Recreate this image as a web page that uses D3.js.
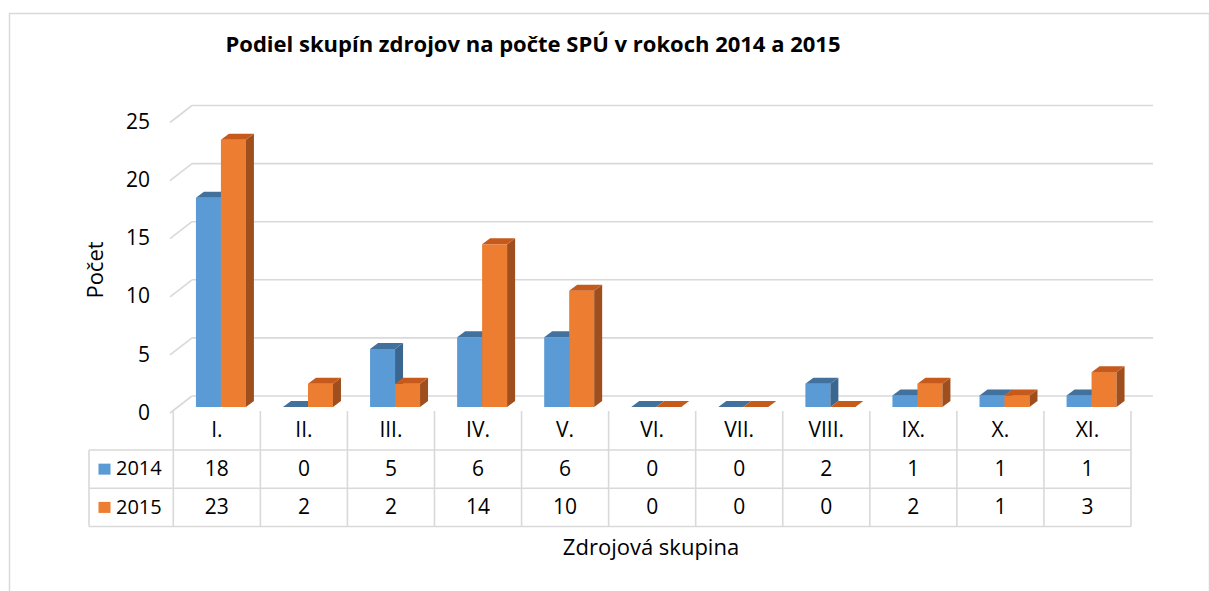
<!DOCTYPE html>
<meta charset="utf-8">
<script src="https://d3js.org/d3.v7.min.js"></script>
<html>
  <head>
    <style>
    body { margin: 0; background-color: white; }
    text { font-family: "Open Sans", sans-serif; fill: #000; }
    </style>
  </head>
  <body>
    <div id="my_dataviz"></div>
  </body>
</html>
<script>

// data
var categories = ["I.", "II.", "III.", "IV.", "V.", "VI.", "VII.", "VIII.", "IX.", "X.", "XI."];
var series = ["2014", "2015"];
var values2014 = [18, 0, 5, 6, 6, 0, 0, 2, 1, 1, 1];
var values2015 = [23, 2, 2, 14, 10, 0, 0, 0, 2, 1, 3];
var yTicks = [0, 5, 10, 15, 20, 25];

var colors = {
  "2014": {front: "#5b9bd5", top: "#41719c", side: "#3a6690"},
  "2015": {front: "#ed7d31", top: "#c55a1c", side: "#9e4f1d"}
};

var W = 1209, H = 591;
var svg = d3.select("#my_dataviz")
  .append("svg")
    .attr("width", W)
    .attr("height", H);

// chart border
svg.append("rect")
  .attr("x", 9.5).attr("y", 13.5)
  .attr("width", 1200).attr("height", 600)
  .attr("fill", "white")
  .attr("stroke", "#d9d9d9")
  .attr("stroke-width", 1.5);

// title
svg.append("text")
  .attr("x", 533).attr("y", 52)
  .attr("text-anchor", "middle")
  .style("font-weight", "bold")
  .style("font-size", "22px")
  .text("Podiel skupín zdrojov na počte SPÚ v rokoch 2014 a 2015");

// ---------------------------//
//       AXIS  AND SCALE      //
// ---------------------------//
var x = d3.scaleBand()
  .domain(categories)
  .range([173.3, 1131])
  .padding(0);

var y = d3.scaleLinear()
  .domain([0, 25])
  .range([407, 116.5]);

// 3d offsets
var wallDx = 22, wallDy = 17;     // floor front edge -> back wall
var barDx = 8, barDy = 6;          // bar depth

// gridlines on back wall + diagonals on the side
var grid = svg.append("g");
yTicks.forEach(function(v) {
  var yb = y(v) - 11;
  grid.append("line")
    .attr("x1", 170 + wallDx).attr("x2", 1153)
    .attr("y1", yb).attr("y2", yb)
    .attr("stroke", "#d9d9d9").attr("stroke-width", 1.6);
  grid.append("line")
    .attr("x1", 170).attr("y1", yb + wallDy)
    .attr("x2", 170 + wallDx).attr("y2", yb)
    .attr("stroke", "#d9d9d9").attr("stroke-width", 1.6);
  grid.append("text")
    .attr("x", 150).attr("y", yb + wallDy + 1)
    .attr("text-anchor", "end")
    .attr("dominant-baseline", "middle")
    .style("font-size", "21px")
    .text(v);
});

// y axis label
svg.append("text")
  .attr("transform", "translate(103,270) rotate(-90)")
  .attr("text-anchor", "middle")
  .style("font-size", "22px")
  .text("Počet");

// ---------------------------//
//       3D BARS              //
// ---------------------------//
var bw = x.bandwidth();
var barW = bw * 0.287;
var barOff = bw * 0.26;

var bars = svg.append("g");
categories.forEach(function(c, i) {
  [values2014[i], values2015[i]].forEach(function(v, k) {
    var col = colors[series[k]];
    var x0 = x(c) + barOff + k * barW, x1 = x0 + barW;
    var yt = y(v), yb = y(0);
    if (v > 0) {
      bars.append("rect")
        .attr("x", x0).attr("y", yt)
        .attr("width", barW).attr("height", yb - yt)
        .attr("fill", col.front);
      bars.append("path")
        .attr("d", "M" + x1 + "," + yt + "L" + (x1 + barDx) + "," + (yt - barDy) +
          "L" + (x1 + barDx) + "," + (yb - barDy) + "L" + x1 + "," + yb + "Z")
        .attr("fill", col.side);
    }
    bars.append("path")
      .attr("d", "M" + x0 + "," + yt + "L" + (x0 + barDx) + "," + (yt - barDy) +
        "L" + (x1 + barDx) + "," + (yt - barDy) + "L" + x1 + "," + yt + "Z")
      .attr("fill", col.top);
  });
});

// ---------------------------//
//       DATA TABLE           //
// ---------------------------//
var tTop = 411, r1 = 450, r2 = 488.3, r3 = 526.5, legL = 89;
var tbl = svg.append("g").attr("stroke", "#d9d9d9").attr("stroke-width", 1.6);
categories.concat(["end"]).forEach(function(c, i) {
  var xx = c === "end" ? x.range()[1] : x(c);
  tbl.append("line").attr("x1", xx).attr("x2", xx).attr("y1", tTop).attr("y2", r3);
});
tbl.append("line").attr("x1", legL).attr("x2", legL).attr("y1", r1).attr("y2", r3);
[r1, r2, r3].forEach(function(yy) {
  tbl.append("line").attr("x1", legL).attr("x2", x.range()[1]).attr("y1", yy).attr("y2", yy);
});

svg.append("g").selectAll("text")
  .data(categories).enter().append("text")
    .attr("x", function(d) { return x(d) + bw / 2; })
    .attr("y", (tTop + r1) / 2 + 1)
    .attr("text-anchor", "middle")
    .attr("dominant-baseline", "middle")
    .style("font-size", "21px")
    .text(function(d) { return d; });

[values2014, values2015].forEach(function(vals, k) {
  var yc = k === 0 ? (r1 + r2) / 2 : (r2 + r3) / 2;
  svg.append("g").selectAll("text")
    .data(vals).enter().append("text")
      .attr("x", function(d, i) { return x(categories[i]) + bw / 2; })
      .attr("y", yc + 1)
      .attr("text-anchor", "middle")
      .attr("dominant-baseline", "middle")
      .style("font-size", "21px")
      .text(function(d) { return d; });
  svg.append("rect")
    .attr("x", 98.5).attr("y", yc - 5.5)
    .attr("width", 12).attr("height", 11)
    .attr("fill", colors[series[k]].front);
  svg.append("text")
    .attr("x", 116).attr("y", yc + 1)
    .attr("dominant-baseline", "middle")
    .style("font-size", "20px")
    .text(series[k]);
});

// x axis label
svg.append("text")
  .attr("x", 651).attr("y", 555)
  .attr("text-anchor", "middle")
  .style("font-size", "22px")
  .text("Zdrojová skupina");
</script>
